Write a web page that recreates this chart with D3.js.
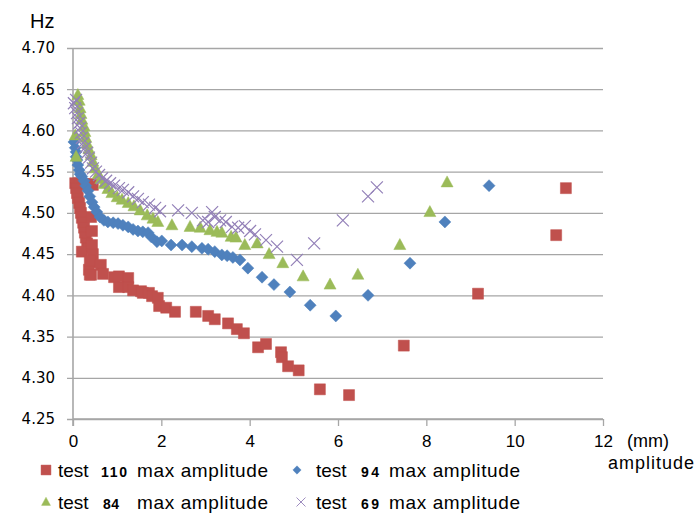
<!DOCTYPE html>
<html>
<head>
<meta charset="utf-8">
<script src="https://cdn.jsdelivr.net/npm/d3@7"></script>
<style>
    body { margin: 0; background: #fff; }
    #chart { width: 696px; height: 516px; }
    text { font-family: "Liberation Sans", Arial, sans-serif; fill: #000; }
</style>
</head>
<body>
<div id="chart"></div>
<script>
//Datos: amplitud (mm) y frecuencia (Hz) por ensayo
let test110Amp = [0.05, 0.14, 0.25, 0.36, 0.45, 0.07, 0.09, 0.11, 0.14, 0.16, 0.18, 0.20, 0.23, 0.25, 0.27, 0.29, 0.32, 0.34, 0.20, 0.41, 0.43, 0.43, 0.45, 0.43, 0.36, 0.41,
    0.38, 0.63, 0.38, 0.68, 0.93, 1.04, 1.25, 1.04, 1.25, 1.36, 1.54, 1.58, 1.72, 1.79, 1.92, 1.95, 2.11, 2.31, 2.78, 3.06, 3.21, 3.51, 3.71, 3.87,
    4.19, 4.37, 4.71, 4.73, 4.87, 5.11, 5.59, 6.25, 7.49, 9.17, 10.94, 11.16];
let test110Hz = [4.536, 4.536, 4.535, 4.535, 4.534, 4.530, 4.524, 4.518, 4.512, 4.506, 4.500, 4.494, 4.488, 4.482, 4.476, 4.470, 4.463, 4.457, 4.453, 4.495, 4.478, 4.461, 4.450, 4.440, 4.431, 4.425,
    4.442, 4.437, 4.425, 4.426, 4.422, 4.423, 4.421, 4.410, 4.410, 4.406, 4.405, 4.403, 4.403, 4.399, 4.397, 4.387, 4.385, 4.380, 4.380, 4.375, 4.371, 4.366, 4.359, 4.354,
    4.337, 4.341, 4.331, 4.325, 4.314, 4.309, 4.286, 4.279, 4.339, 4.402, 4.473, 4.530];

let test94Amp = [0.02, 0.05, 0.07, 0.07, 0.09, 0.11, 0.14, 0.16, 0.20, 0.25, 0.29, 0.34, 0.38, 0.43, 0.48, 0.54, 0.61, 0.70, 0.79, 0.91, 1.02, 1.13, 1.25, 1.36, 1.47, 1.58, 1.70, 1.77, 1.90, 2.01,
    2.22, 2.47, 2.69, 2.92, 3.06, 3.21, 3.37, 3.49, 3.62, 3.78, 3.96, 4.28, 4.55, 4.91, 5.37, 5.95, 6.68, 7.63, 8.42, 9.42];
let test94Hz = [4.586, 4.579, 4.574, 4.568, 4.564, 4.558, 4.552, 4.547, 4.544, 4.539, 4.533, 4.527, 4.520, 4.513, 4.507, 4.501, 4.495, 4.491, 4.489, 4.488, 4.487, 4.485, 4.483, 4.480, 4.478, 4.477, 4.476, 4.471, 4.465, 4.466,
    4.461, 4.461, 4.459, 4.457, 4.456, 4.453, 4.449, 4.448, 4.446, 4.443, 4.433, 4.422, 4.413, 4.404, 4.388, 4.375, 4.400, 4.439, 4.489, 4.533];

let test84Amp = [0.07, 0.05, 0.11, 0.14, 0.16, 0.18, 0.20, 0.25, 0.27, 0.29, 0.32, 0.36, 0.41, 0.45, 0.50, 0.57, 0.63, 0.70, 0.79, 0.88, 1.00, 1.11, 1.25, 1.38, 1.52, 1.68, 1.81, 1.92,
    2.24, 2.65, 2.88, 3.10, 3.26, 3.37, 3.58, 3.69, 3.89, 4.17, 4.44, 4.75, 5.21, 5.82, 6.45, 7.40, 8.08, 8.47];
let test84Hz = [4.568, 4.594, 4.643, 4.636, 4.627, 4.620, 4.613, 4.605, 4.598, 4.591, 4.584, 4.577, 4.570, 4.562, 4.554, 4.547, 4.541, 4.535, 4.529, 4.524, 4.519, 4.516, 4.512, 4.508, 4.503, 4.497, 4.493, 4.489,
    4.485, 4.483, 4.482, 4.479, 4.477, 4.476, 4.471, 4.470, 4.461, 4.463, 4.450, 4.439, 4.423, 4.413, 4.425, 4.461, 4.501, 4.537];

let test69Amp = [0.02, 0.07, 0.05, 0.09, 0.11, 0.14, 0.16, 0.18, 0.20, 0.23, 0.27, 0.32, 0.36, 0.41, 0.45, 0.52, 0.59, 0.66, 0.75, 0.84, 0.93, 1.04, 1.13, 1.25, 1.36, 1.47, 1.58, 1.72, 1.86, 1.97,
    2.38, 2.69, 2.94, 3.06, 3.15, 3.21, 3.33, 3.46, 3.60, 3.74, 3.89, 4.01, 4.12, 4.37, 4.62, 5.07, 5.46, 6.11, 6.68, 6.88];
let test69Hz = [4.633, 4.637, 4.627, 4.621, 4.615, 4.609, 4.603, 4.597, 4.591, 4.585, 4.579, 4.573, 4.567, 4.561, 4.554, 4.550, 4.546, 4.542, 4.539, 4.536, 4.533, 4.530, 4.528, 4.525, 4.520, 4.517, 4.513, 4.510, 4.506, 4.502,
    4.503, 4.500, 4.491, 4.489, 4.501, 4.495, 4.491, 4.489, 4.483, 4.482, 4.484, 4.478, 4.474, 4.467, 4.459, 4.443, 4.463, 4.491, 4.520, 4.531];

//Ticks de los ejes
let xTicks = [0, 2, 4, 6, 8, 10, 12];
let yTicks = [4.25, 4.30, 4.35, 4.40, 4.45, 4.50, 4.55, 4.60, 4.65, 4.70];

//Colores
let red_color = '#C0504D', blue_color = '#4F81BD', green_color = '#9BBB59', purple_color = '#9380B8';
let grid_color = '#A6A6A6';

function zip(xs, ys) {
    return xs.map(function(d, i) { return {x: d, y: ys[i]}; });
}

let series = [
    {name: '110', data: zip(test110Amp, test110Hz), color: red_color, shape: 'square'},
    {name: '94', data: zip(test94Amp, test94Hz), color: blue_color, shape: 'diamond'},
    {name: '84', data: zip(test84Amp, test84Hz), color: green_color, shape: 'triangle'},
    {name: '69', data: zip(test69Amp, test69Hz), color: purple_color, shape: 'cross'}
];

function getChart() {
    let chartBlock = d3.select('#chart');
    let margin = {top: 48, right: 93, bottom: 97, left: 73};
    let width = 696 - margin.left - margin.right,
        height = 516 - margin.top - margin.bottom;

    let svg = chartBlock.append('svg')
        .attr('width', 696)
        .attr('height', 516);

    let chart = svg.append('g')
        .attr('transform', 'translate(' + margin.left + ',' + margin.top + ')');

    //Escalas
    let x = d3.scaleLinear().domain([0, 12]).range([0, width]);
    let y = d3.scaleLinear().domain([4.25, 4.70]).range([height, 0]);

    //Eje Y con rejilla
    let yAxis = function(g) {
        g.call(d3.axisLeft(y).tickValues(yTicks).tickFormat(d3.format('.2f')).tickSize(6).tickPadding(12));
        g.call(function(g) { g.select('.domain').remove(); });
        g.selectAll('.tick line').attr('stroke', grid_color).attr('stroke-width', 1.3).attr('x2', width);
        g.selectAll('.tick line').attr('x1', -6);
        g.selectAll('.tick text')
            .style('font-family', '"DejaVu Sans", Verdana, sans-serif')
            .style('font-size', '15px')
            .attr('fill', '#111');
    };
    chart.append('g').call(yAxis);

    //Eje X
    let xAxis = function(g) {
        g.call(d3.axisBottom(x).tickValues(xTicks).tickSize(7).tickPadding(9));
        g.select('.domain').attr('stroke', grid_color).attr('stroke-width', 1.3).attr('d', 'M0,0H' + width);
        g.selectAll('.tick line').attr('stroke', grid_color).attr('stroke-width', 1.3);
        g.selectAll('.tick text').style('font-size', '17px').attr('fill', '#111');
    };
    chart.append('g')
        .attr('transform', 'translate(0,' + height + ')')
        .call(xAxis);

    //Línea vertical del eje Y
    chart.append('line')
        .attr('x1', 0).attr('x2', 0)
        .attr('y1', 0).attr('y2', height + 7)
        .attr('stroke', grid_color)
        .attr('stroke-width', 1.6);

    //Marcadores
    function symbolPath(shape) {
        if (shape == 'square') return 'M-5.5,-5.5H5.5V5.5H-5.5Z';
        if (shape == 'diamond') return 'M0,-6L6,0L0,6L-6,0Z';
        if (shape == 'triangle') return 'M0,-6.5L6,4.5H-6Z';
        return 'M-6,-6L6,6M-6,6L6,-6';
    }

    function drawMarker(sel, s) {
        sel.append('path')
            .attr('d', symbolPath(s.shape))
            .attr('fill', s.shape == 'cross' ? 'none' : s.color)
            .attr('stroke', s.color)
            .attr('stroke-width', s.shape == 'cross' ? 1.2 : 0.5);
    }

    series.forEach(function(s) {
        let g = chart.append('g').attr('class', 'series series-' + s.name);
        g.selectAll('.point')
            .data(s.data)
            .enter()
            .append('g')
            .attr('class', 'point')
            .attr('transform', function(d) { return 'translate(' + x(d.x) + ',' + y(d.y) + ')'; })
            .each(function() { drawMarker(d3.select(this), s); });
    });

    //Títulos de ejes
    svg.append('text')
        .attr('x', 30).attr('y', 28)
        .style('font-size', '20px')
        .text('Hz');
    svg.append('text')
        .attr('x', 627).attr('y', 447)
        .style('font-size', '18px')
        .text('(mm)');
    svg.append('text')
        .attr('x', 608).attr('y', 469)
        .style('font-size', '18px')
        .attr('textLength', 86)
        .text('amplitude');

    //Leyenda
    let legendPos = [
        {lx: 46, ly: 470, tx: 58, nx: 101, nw: 26, mx: 137, sc: 0.9},
        {lx: 297, ly: 470, tx: 316, nx: 361, nw: 18, mx: 389, sc: 0.7},
        {lx: 46, ly: 502, tx: 58, nx: 103, nw: 16, mx: 137, sc: 0.75},
        {lx: 301, ly: 502, tx: 316, nx: 361, nw: 18, mx: 389, sc: 0.75}
    ];

    series.forEach(function(s, i) {
        let p = legendPos[i];
        let item = svg.append('g').attr('class', 'legend-item');
        let marker = item.append('g')
            .attr('transform', 'translate(' + p.lx + ',' + p.ly + ') scale(' + p.sc + ')');
        drawMarker(marker, s);

        item.append('text')
            .attr('x', p.tx).attr('y', p.ly + 7)
            .style('font-size', '19px')
            .text('test');
        item.append('text')
            .attr('x', p.nx).attr('y', p.ly + 7)
            .style('font-size', '14px')
            .style('font-weight', 'bold')
            .attr('textLength', p.nw)
            .text(s.name);
        item.append('text')
            .attr('x', p.mx).attr('y', p.ly + 7)
            .style('font-size', '19px')
            .attr('textLength', 131)
            .text('max amplitude');
    });
}

getChart();
</script>
</body>
</html>
